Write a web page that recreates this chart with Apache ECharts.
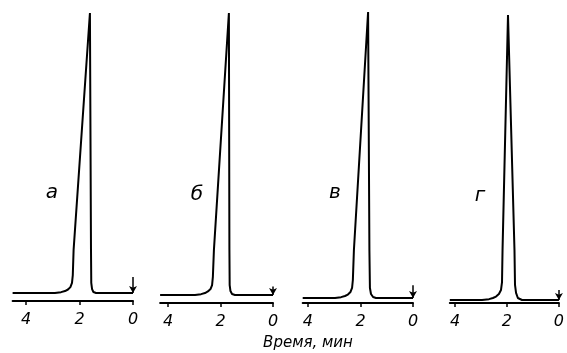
<!DOCTYPE html>
<html>
<head>
<meta charset="utf-8">
<script src="https://cdn.jsdelivr.net/npm/echarts@6/dist/echarts.min.js"></script>
<style>html,body{margin:0;padding:0;background:#fff}#c{width:567px;height:353px}</style>
</head>
<body>
<div id="c"></div>
<script>
// Panel labels and axis title
const panelLabels = ['а', 'б', 'в', 'г'];
const axisTitle = 'Время, мин';
const tickValues = [0, 2, 4];

// Chromatogram a
const timeA   = [4.5, 2.92, 2.69, 2.54, 2.43, 2.34, 2.28, 2.25, 2.22, 1.61, 1.57, 1.56, 1.53, 1.48, 1.38, 0];
const signalA = [0,   0,    0.3,  0.7,  1.25, 2.1,  3.6,  6.4,  15.4, 100,  15.4, 3.6,  1.4,  0.36, 0,    0];
// Chromatogram б
const timeB   = [4.3, 2.97, 2.74, 2.59, 2.48, 2.38, 2.32, 2.29, 2.25, 1.68, 1.66, 1.65, 1.62, 1.56, 1.45, 0];
const signalB = [0,   0,    0.3,  0.7,  1.25, 2.1,  3.5,  6.4,  16,   100,  16,   3.5,  1.4,  0.35, 0,    0];
// Chromatogram в
const timeC   = [4.2, 2.97, 2.74, 2.59, 2.48, 2.38, 2.32, 2.29, 2.25, 1.71, 1.66, 1.64, 1.60, 1.52, 1.41, 0];
const signalC = [0,   0,    0.3,  0.7,  1.2,  2.1,  3.5,  6.3,  16.8, 100,  16.8, 3.5,  1.4,  0.35, 0,    0];
// Chromatogram г
const timeD   = [4.2, 2.96, 2.69, 2.54, 2.42, 2.31, 2.23, 2.19, 2.17, 1.96, 1.71, 1.69, 1.65, 1.58, 1.42, 0];
const signalD = [0,   0,    0.3,  0.7,  1.2,  2.1,  3.5,  6.3,  17.5, 100,  17.5, 5.3,  2.5,  0.7,  0,    0];

// injection marks (time, arrow height)
const injectionTime = 0;
const arrowHeights = [5.7, 3.0, 4.5, 3.5];

const times = [timeA, timeB, timeC, timeD];
const signals = [signalA, signalB, signalC, signalD];

// layout
const grids = [
  {left: 12.6, right: 434, top: 13, bottom: 52},
  {left: 160.1, right: 294, top: 13, bottom: 50},
  {left: 302.7, right: 154, top: 12, bottom: 50},
  {left: 449.8, right: 8, top: 15, bottom: 50}
];
const xMax = [4.5, 4.3, 4.2, 4.2];
const yMin = [-2.86, -2.84, -1.75, -1.05];
const labelPos = [[52, 193], [197, 195], [335, 193], [480, 196]];

const font = '"DejaVu Sans", sans-serif';

const option = {
  backgroundColor: '#fff',
  animation: false,
  grid: grids,
  xAxis: grids.map((g, i) => ({
    type: 'value', gridIndex: i, inverse: true, min: 0, max: xMax[i], interval: 2,
    splitLine: {show: false},
    axisLine: {show: true, onZero: false, lineStyle: {color: '#000', width: 2}},
    axisTick: {show: true, length: 4, customValues: tickValues, lineStyle: {color: '#000', width: 1.5}},
    axisLabel: {show: true, customValues: tickValues, margin: 11, color: '#000', fontSize: 16,
      fontStyle: 'italic', fontFamily: font}
  })),
  yAxis: grids.map((g, i) => ({
    type: 'value', gridIndex: i, min: yMin[i], max: 100, show: false, splitLine: {show: false}
  })),
  graphic: panelLabels.map((t, i) => ({
    type: 'text', x: labelPos[i][0], y: labelPos[i][1],
    style: {text: t, fill: '#000', font: 'italic 20px "DejaVu Sans", sans-serif', align: 'center', verticalAlign: 'middle'}
  })).concat([{
    type: 'text', x: 308, y: 343,
    style: {text: axisTitle, fill: '#000', font: 'italic 15px "DejaVu Sans", sans-serif', align: 'center', verticalAlign: 'middle'}
  }]),
  series: times.map((tArr, i) => ({
    type: 'line', xAxisIndex: i, yAxisIndex: i,
    data: tArr.map((t, j) => [t, signals[i][j]]),
    showSymbol: false, symbol: 'none',
    lineStyle: {color: '#000', width: 2},
    markLine: {
      silent: true, symbol: ['none', 'arrow'], symbolSize: [6, 7],
      label: {show: false},
      lineStyle: {color: '#000', width: 1.5, type: 'solid'},
      data: [[{coord: [injectionTime, arrowHeights[i]]}, {coord: [injectionTime, 0]}]]
    }
  }))
};

const chart = echarts.init(document.getElementById('c'), null, {renderer: 'canvas'});
chart.setOption(option);
</script>
</body>
</html>
